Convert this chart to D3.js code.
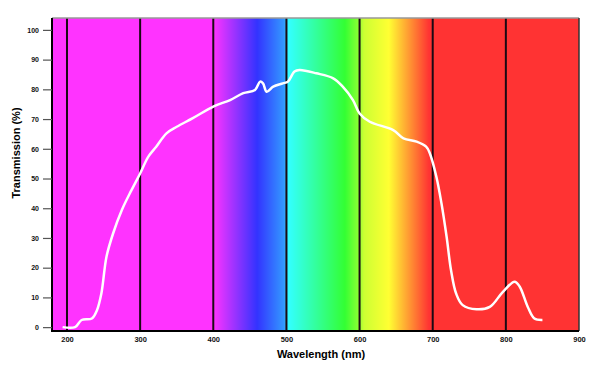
<!DOCTYPE html>
<html>
<head>
<meta charset="utf-8">
<script src="https://cdn.jsdelivr.net/npm/d3@7"></script>
<style>
  body { margin: 0; background: #fff; }
  svg { display: block; font-family: "Liberation Sans", Arial, sans-serif; }
</style>
</head>
<body>
<div id="chart"></div>
<script>
// transmission curve
var wavelengths = [194, 211, 220, 234, 241, 247, 254, 263, 275, 288, 300, 311, 322, 336, 350, 372, 400, 423, 441, 457,
  464, 468, 473, 482, 495, 502, 511, 518, 541, 564, 577, 591, 600, 614, 646, 660, 678, 691, 696, 705,
  712, 719, 725, 732, 741, 760, 778, 796, 812, 819, 830, 839, 850];
var transmission = [0, 0, 2.4, 2.9, 5.7, 11.3, 23.7, 31.5, 39.4, 46, 51.7, 57.3, 60.7, 65.2, 67.4, 70.3, 74.2, 76.4, 78.7, 79.8,
  82.6, 82, 79.2, 80.9, 82, 82.6, 86, 86.5, 85.4, 83.7, 80.9, 76.4, 71.9, 69.1, 66.3, 63.5, 62.4, 60.7, 58.5, 50.6,
  41.6, 30.4, 19.2, 11.3, 7.4, 6, 6.8, 11.9, 15.3, 13.6, 6.8, 2.9, 2.4];

var xTicks = [200, 300, 400, 500, 600, 700, 800, 900];
var yTicks = [0, 10, 20, 30, 40, 50, 60, 70, 80, 90, 100];
var gridLines = [200, 300, 400, 500, 600, 700, 800];

// background spectrum, wavelength -> colour
var spectrumNm = [180, 400, 460, 497, 503, 580, 598, 606, 640, 695, 900];
var spectrumColor = ["#ff33ff", "#ff33ff", "#3333ff", "#3399ff", "#33ffff", "#33ff33", "#88ff33", "#ccff33", "#ffff33", "#ff3333", "#ff3333"];

var W = 594, H = 369,
    margin = {top: 18, right: 15, bottom: 38, left: 52},
    width = W - margin.left - margin.right,
    height = H - margin.top - margin.bottom;

var svg = d3.select("#chart").append("svg")
  .attr("width", W)
  .attr("height", H);

var g = svg.append("g")
  .attr("transform", "translate(" + margin.left + "," + margin.top + ")");

var x = d3.scaleLinear().domain([179.5, 900]).range([0, width]);
var y = d3.scaleLinear().domain([-1.3, 104]).range([height, 0]);

// gradient in user space so stops line up with the x scale
var grad = svg.append("defs").append("linearGradient")
  .attr("id", "spectrum")
  .attr("gradientUnits", "userSpaceOnUse")
  .attr("x1", 0).attr("x2", width)
  .attr("y1", 0).attr("y2", 0);

grad.selectAll("stop")
  .data(spectrumNm)
  .enter().append("stop")
  .attr("offset", function(d) { return x(d) / width; })
  .attr("stop-color", function(d, i) { return spectrumColor[i]; });

g.append("rect")
  .attr("width", width)
  .attr("height", height)
  .style("fill", "url(#spectrum)");

g.selectAll(".grid")
  .data(gridLines)
  .enter().append("line")
  .attr("class", "grid")
  .attr("x1", function(d) { return x(d); })
  .attr("x2", function(d) { return x(d); })
  .attr("y1", 0)
  .attr("y2", height)
  .style("stroke", "#1a0a14")
  .style("stroke-width", 2);

// frame
g.append("line").attr("x1", 0).attr("x2", width).attr("y1", 0).attr("y2", 0)
  .style("stroke", "#999").style("stroke-width", 1.5);
g.append("line").attr("x1", width).attr("x2", width).attr("y1", 0).attr("y2", height)
  .style("stroke", "#333").style("stroke-width", 1.5);
g.append("line").attr("x1", 0).attr("x2", 0).attr("y1", 0).attr("y2", height + 1)
  .style("stroke", "#000").style("stroke-width", 2);
g.append("line").attr("x1", -1).attr("x2", width).attr("y1", height).attr("y2", height)
  .style("stroke", "#000").style("stroke-width", 2);

// y axis
var yAxis = g.append("g")
  .call(d3.axisLeft(y).tickValues(yTicks).tickSize(9).tickPadding(4))
  .call(function(a) { a.select(".domain").remove(); });
yAxis.selectAll(".tick line").style("stroke", "#555").style("stroke-width", 1.2);
yAxis.selectAll(".tick text")
  .style("font-size", "7px").style("font-weight", "bold").style("fill", "#111");

// x axis, labels only
var xAxis = g.append("g")
  .attr("transform", "translate(0," + height + ")")
  .call(d3.axisBottom(x).tickValues(xTicks).tickSize(0).tickPadding(6))
  .call(function(a) { a.select(".domain").remove(); });
xAxis.selectAll(".tick text")
  .style("font-size", "7.5px").style("font-weight", "bold").style("fill", "#111");

var line = d3.line()
  .x(function(d, i) { return x(wavelengths[i]); })
  .y(function(d) { return y(d); })
  .curve(d3.curveCatmullRom.alpha(0.5));

g.append("path")
  .datum(transmission)
  .attr("d", line)
  .style("fill", "none")
  .style("stroke", "#fff")
  .style("stroke-width", 2.5)
  .style("stroke-linejoin", "round");

svg.append("text")
  .attr("x", 321)
  .attr("y", 358)
  .attr("text-anchor", "middle")
  .style("font-size", "11px")
  .style("font-weight", "bold")
  .text("Wavelength (nm)");

svg.append("text")
  .attr("transform", "translate(20,153) rotate(-90)")
  .attr("text-anchor", "middle")
  .style("font-size", "11px")
  .style("font-weight", "bold")
  .text("Transmission (%)");
</script>
</body>
</html>
